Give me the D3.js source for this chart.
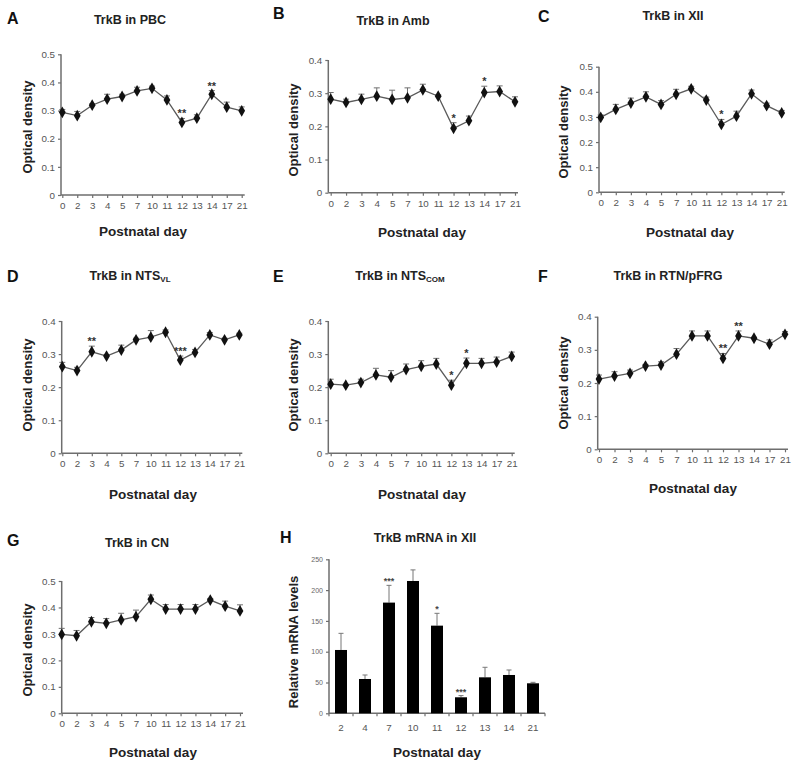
<!DOCTYPE html>
<html><head><meta charset="utf-8">
<script src="https://cdn.jsdelivr.net/npm/d3@7"></script>
<style>body{margin:0;background:#fff}svg{display:block}text{font-family:"Liberation Sans",Arial,sans-serif}</style>
</head><body><svg id="c" width="800" height="769"></svg>
<script>
// ---------- data ----------
const days = ["0","2","3","4","5","7","10","11","12","13","14","17","21"];
const pbcMean = [0.294,0.282,0.319,0.341,0.350,0.370,0.379,0.338,0.258,0.273,0.358,0.312,0.299];
const pbcErr  = [0.010,0.015,0.005,0.017,0.008,0.013,0.008,0.014,0.014,0.012,0.013,0.018,0.014];
const pbcSig  = [["12","**"],["14","**"]];
const ambMean = [0.282,0.272,0.281,0.291,0.281,0.286,0.310,0.291,0.194,0.217,0.302,0.305,0.274];
const ambErr  = [0.020,0.010,0.016,0.025,0.028,0.030,0.017,0.004,0.017,0.014,0.019,0.017,0.015];
const ambSig  = [["12","*"],["14","*"]];
const xiiMean = [0.298,0.330,0.355,0.380,0.350,0.390,0.412,0.367,0.270,0.303,0.392,0.345,0.316];
const xiiErr  = [0.010,0.020,0.020,0.020,0.015,0.020,0.010,0.012,0.020,0.020,0.015,0.010,0.010];
const xiiSig  = [["12","*"]];
const vlMean  = [0.262,0.250,0.307,0.294,0.312,0.343,0.351,0.366,0.282,0.305,0.358,0.343,0.358];
const vlErr   = [0.013,0.010,0.017,0.004,0.015,0.005,0.020,0.007,0.012,0.009,0.007,0.005,0.005];
const vlSig   = [["3","**"],["12","***"]];
const comMean = [0.209,0.206,0.214,0.237,0.230,0.253,0.263,0.270,0.206,0.272,0.272,0.276,0.293];
const comErr  = [0.015,0.003,0.010,0.020,0.020,0.017,0.017,0.017,0.015,0.016,0.015,0.015,0.013];
const comSig  = [["12","*"],["13","*"]];
const rtnMean = [0.212,0.221,0.229,0.251,0.254,0.287,0.342,0.342,0.274,0.342,0.335,0.317,0.347];
const rtnErr  = [0.012,0.013,0.010,0.005,0.010,0.017,0.015,0.015,0.015,0.015,0.003,0.013,0.008];
const rtnSig  = [["12","**"],["13","**"]];
const cnMean  = [0.298,0.293,0.346,0.340,0.353,0.365,0.431,0.394,0.394,0.394,0.428,0.405,0.387];
const cnErr   = [0.023,0.020,0.016,0.018,0.025,0.025,0.016,0.017,0.017,0.017,0.006,0.019,0.023];
const cnSig   = [];
const odTicks5 = [0,0.1,0.2,0.3,0.4,0.5];
const odTicks4 = [0,0.1,0.2,0.3,0.4];
const mrnaDays = ["2","4","7","10","11","12","13","14","21"];
const mrnaMean = [102.8,55.7,179.7,214.8,142.3,26.0,58.4,62.2,48.7];
const mrnaErr  = [27,6.5,28,18,20,2.7,16.3,8.1,1.6];
const mrnaSig  = [["7","***"],["11","*"],["12","***"]];
const mrnaTicks = [0,50,100,150,200,250];

// ---------- layout ----------
const svg = d3.select("#c");
const lineColor = "#5a5a5a", axisColor = "#6e6e6e", tickText = "#555";

function linePanel(p){
  const g = svg.append("g");
  const x = d3.scalePoint().domain(days).range([p.x0, p.x1]).padding(0);
  const y = d3.scaleLinear().domain([0, p.ymax]).range([p.yb, p.yt]);
  const ya = d3.axisLeft(y).tickValues(p.ticks).tickSize(3).tickPadding(3)
      .tickFormat(d => d === 0 ? "0" : d3.format(".1f")(d));
  const yg = g.append("g").attr("transform", `translate(${p.ax},0)`).call(ya);
  const xa = d3.axisBottom(x).tickSize(3).tickPadding(4);
  const xg = g.append("g").attr("transform", `translate(0,${p.yb})`).call(xa);
  [yg, xg].forEach(a => {
    a.select(".domain").remove();
    a.selectAll("line").attr("stroke", axisColor).attr("stroke-width", 1.2);
    a.selectAll("text").attr("fill", tickText).style("font-size", "9.8px");
  });
  g.append("line").attr("x1", p.ax).attr("x2", p.ax).attr("y1", p.yt).attr("y2", p.yb)
    .attr("stroke", axisColor).attr("stroke-width", 1.5);
  g.append("line").attr("x1", p.ax).attr("x2", p.x1 + 3).attr("y1", p.yb).attr("y2", p.yb)
    .attr("stroke", axisColor).attr("stroke-width", 1.5);
  const pts = days.map((d, i) => ({d, v: p.mean[i], e: p.err[i]}));
  const eb = g.append("g").attr("stroke", "#707070").attr("stroke-width", 1);
  pts.forEach(o => {
    eb.append("line").attr("x1", x(o.d)).attr("x2", x(o.d)).attr("y1", y(o.v)).attr("y2", y(o.v + o.e));
    eb.append("line").attr("x1", x(o.d) - 3).attr("x2", x(o.d) + 3).attr("y1", y(o.v + o.e)).attr("y2", y(o.v + o.e));
  });
  g.append("path").datum(pts).attr("fill", "none").attr("stroke", lineColor).attr("stroke-width", 1.3)
    .attr("d", d3.line().x(o => x(o.d)).y(o => y(o.v)));
  g.selectAll(".m").data(pts).join("path")
    .attr("transform", o => `translate(${x(o.d)},${y(o.v)})`)
    .attr("d", d3.symbol(d3.symbolDiamond, 40)).attr("fill", "#111");
  p.sig.forEach(([d, s]) => {
    const i = days.indexOf(d);
    g.append("text").attr("x", x(d)).attr("y", y(p.mean[i] + p.err[i]) - 1)
      .attr("text-anchor", "middle").attr("fill", "#333").style("font-size", "11px").style("font-weight", "bold").text(s);
  });
  labels(g, p);
}

function labels(g, p){
  g.append("text").attr("x", p.lx).attr("y", p.ly).style("font-size", "16px").style("font-weight", "bold")
    .attr("fill", "#111").text(p.letter);
  const t = g.append("text").attr("x", p.tx).attr("y", p.ty).attr("text-anchor", "middle")
    .style("font-size", "12.5px").style("font-weight", "bold").attr("fill", "#222").text(p.title);
  if (p.sub) t.append("tspan").attr("dy", 2).style("font-size", "8px").text(p.sub);
  g.append("text").attr("x", p.xlx).attr("y", p.xly).attr("text-anchor", "middle")
    .style("font-size", "13.5px").style("font-weight", "bold").attr("fill", "#222").text("Postnatal day");
  g.append("text").attr("transform", `translate(${p.ylx},${p.yly}) rotate(-90)`).attr("text-anchor", "middle")
    .attr("dy", "0.35em").style("font-size", "13px").style("font-weight", "bold").attr("fill", "#222").text(p.ylab || "Optical density");
}

const panels = [
  {letter:"A", title:"TrkB in PBC", mean:pbcMean, err:pbcErr, sig:pbcSig, ticks:odTicks5, ymax:0.5,
   ax:61, x0:62.3, x1:241.7, yt:54.3, yb:195, lx:7, ly:24, tx:130, ty:24, xlx:143, xly:236, ylx:27, yly:127},
  {letter:"B", title:"TrkB in Amb", mean:ambMean, err:ambErr, sig:ambSig, ticks:odTicks4, ymax:0.4,
   ax:328.3, x0:330.7, x1:515, yt:60, yb:192.7, lx:273, ly:19, tx:393, ty:25, xlx:422, xly:237, ylx:293, yly:130},
  {letter:"C", title:"TrkB in XII", mean:xiiMean, err:xiiErr, sig:xiiSig, ticks:odTicks5, ymax:0.5,
   ax:599, x0:600.7, x1:781.7, yt:66.7, yb:192.3, lx:538, ly:22, tx:673, ty:20, xlx:690, xly:237, ylx:563, yly:132},
  {letter:"D", title:"TrkB in NTS", sub:"VL", mean:vlMean, err:vlErr, sig:vlSig, ticks:odTicks4, ymax:0.4,
   ax:61.7, x0:62.3, x1:239.3, yt:321, yb:453.3, lx:7, ly:282, tx:130, ty:280, xlx:153, xly:499, ylx:27, yly:385},
  {letter:"E", title:"TrkB in NTS", sub:"COM", mean:comMean, err:comErr, sig:comSig, ticks:odTicks4, ymax:0.4,
   ax:328.3, x0:330.7, x1:511.7, yt:321, yb:453.3, lx:273, ly:282, tx:400, ty:280, xlx:422, xly:499, ylx:293, yly:385},
  {letter:"F", title:"TrkB in RTN/pFRG", mean:rtnMean, err:rtnErr, sig:rtnSig, ticks:odTicks4, ymax:0.4,
   ax:597.7, x0:599, x1:785, yt:316.7, yb:449.3, lx:538, ly:282, tx:668, ty:280, xlx:693, xly:493, ylx:563, yly:383},
  {letter:"G", title:"TrkB in CN", mean:cnMean, err:cnErr, sig:cnSig, ticks:odTicks5, ymax:0.5,
   ax:61.7, x0:61.7, x1:240, yt:581, yb:713.3, lx:7, ly:546, tx:137, ty:547, xlx:153, xly:757, ylx:27, yly:650}
];
panels.forEach(linePanel);

// ---------- bar panel H ----------
(function(){
  const p = {letter:"H", title:"TrkB mRNA in XII", ylab:"Relative mRNA levels", ax:329, xr:545, yt:559.3, yb:713.3,
    lx:280, ly:543, tx:425, ty:542, xlx:437, xly:757, ylx:293, yly:642};
  const g = svg.append("g");
  const x = d3.scaleBand().domain(mrnaDays).range([p.ax, p.xr]).paddingInner(0.5).paddingOuter(0.25);
  const y = d3.scaleLinear().domain([0, 250]).range([p.yb, p.yt]);
  const yg = g.append("g").attr("transform", `translate(${p.ax},0)`)
    .call(d3.axisLeft(y).tickValues(mrnaTicks).tickSize(3).tickPadding(3));
  yg.select(".domain").remove();
  yg.selectAll("line").attr("stroke", axisColor).attr("stroke-width", 1.2);
  yg.selectAll("text").attr("fill", "#666").style("font-size", "7px");
  const xg = g.append("g").attr("transform", `translate(0,${p.yb})`).call(d3.axisBottom(x).tickSize(0).tickPadding(11));
  xg.select(".domain").remove();
  xg.selectAll("text").attr("fill", tickText).style("font-size", "9.8px");
  const step = x.step();
  d3.range(mrnaDays.length + 1).forEach(i => {
    const xx = x(mrnaDays[0]) - (step - x.bandwidth()) / 2 + i * step;
    g.append("line").attr("x1", xx).attr("x2", xx).attr("y1", p.yb).attr("y2", p.yb + 3)
      .attr("stroke", axisColor).attr("stroke-width", 1.2);
  });
  g.append("line").attr("x1", p.ax).attr("x2", p.ax).attr("y1", p.yt).attr("y2", p.yb).attr("stroke", axisColor).attr("stroke-width", 1.5);
  g.append("line").attr("x1", p.ax).attr("x2", p.xr).attr("y1", p.yb).attr("y2", p.yb).attr("stroke", axisColor).attr("stroke-width", 1.5);
  const data = mrnaDays.map((d, i) => ({d, v: mrnaMean[i], e: mrnaErr[i]}));
  const eb = g.append("g").attr("stroke", "#777").attr("stroke-width", 1);
  data.forEach(o => {
    const cx = x(o.d) + x.bandwidth() / 2;
    eb.append("line").attr("x1", cx).attr("x2", cx).attr("y1", y(o.v)).attr("y2", y(o.v + o.e));
    eb.append("line").attr("x1", cx - 2.5).attr("x2", cx + 2.5).attr("y1", y(o.v + o.e)).attr("y2", y(o.v + o.e));
  });
  g.selectAll(".b").data(data).join("rect")
    .attr("x", o => x(o.d)).attr("width", x.bandwidth())
    .attr("y", o => y(o.v)).attr("height", o => y(0) - y(o.v)).attr("fill", "#000");
  mrnaSig.forEach(([d, s]) => {
    const i = mrnaDays.indexOf(d);
    g.append("text").attr("x", x(d) + x.bandwidth() / 2).attr("y", y(mrnaMean[i] + mrnaErr[i]) - 1)
      .attr("text-anchor", "middle").attr("fill", "#444").style("font-size", "9px").style("font-weight", "bold").text(s);
  });
  labels(g, p);
})();
</script></body></html>
